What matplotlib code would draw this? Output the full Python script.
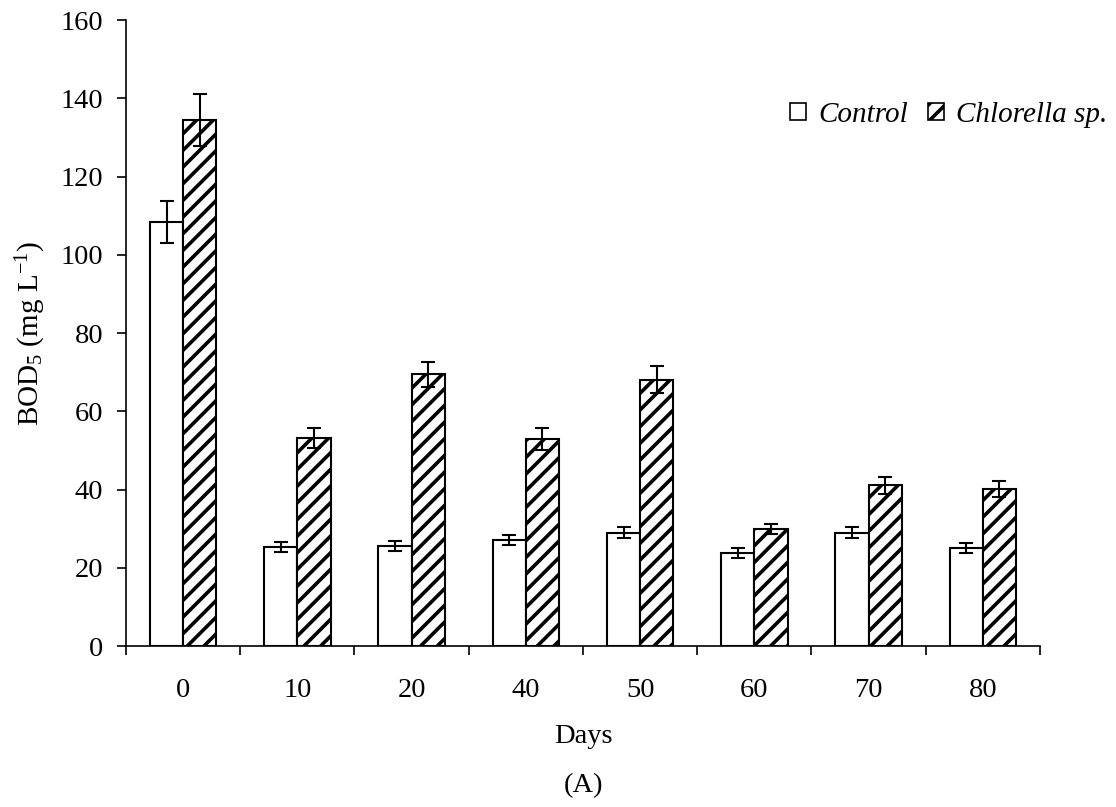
import numpy as np
import matplotlib.pyplot as plt
from matplotlib.patches import Patch

days = ['0', '10', '20', '40', '50', '60', '70', '80']
control = [108.4, 25.2, 25.5, 27.0, 29.0, 23.7, 29.0, 25.1]
control_err = [5.3, 1.3, 1.3, 1.3, 1.5, 1.3, 1.5, 1.3]
chlorella = [134.4, 53.2, 69.4, 53.0, 68.1, 29.9, 41.1, 40.1]
chlorella_err = [6.7, 2.6, 3.3, 2.8, 3.5, 1.4, 2.2, 2.1]

plt.rcParams['font.family'] = ['Liberation Serif', 'DejaVu Serif']
plt.rcParams['font.size'] = 20.5
plt.rcParams['mathtext.fontset'] = 'custom'
plt.rcParams['mathtext.rm'] = 'Liberation Serif'
plt.rcParams['mathtext.it'] = 'Liberation Serif:italic'
plt.rcParams['hatch.linewidth'] = 2.6

fig = plt.figure(figsize=(11.16, 8.07), dpi=100)
ax = fig.add_axes([0.1129, 0.1995, 0.819, 0.7757])

x = np.arange(len(days))
w = 0.29
err_kw = dict(ecolor='black', elinewidth=1.5, capsize=5, capthick=1.5)
ax.bar(x - w / 2, control, w, yerr=control_err, color='white',
       edgecolor='black', linewidth=1.5, error_kw=err_kw)
ax.bar(x + w / 2, chlorella, w, yerr=chlorella_err, color='white',
       edgecolor='black', linewidth=1.5, hatch='//', error_kw=err_kw)

ax.set_xlim(-0.5, len(days) - 0.5)
ax.set_ylim(0, 160)
ax.set_yticks(np.arange(0, 161, 20))
ax.set_xticks(x)
ax.set_xticklabels(days)
ax.tick_params(axis='x', length=0, pad=23)
# ticks between the day groups
ax.set_xticks(np.arange(-0.5, len(days)), minor=True)
ax.tick_params(axis='x', which='minor', length=6.5, width=1.2, direction='out')
ax.tick_params(axis='y', length=6.5, width=1.2, direction='out', pad=10)
for s in ['top', 'right']:
    ax.spines[s].set_visible(False)
for s in ['left', 'bottom']:
    ax.spines[s].set_linewidth(1.2)

ax.set_ylabel('BOD$_\\mathregular{5}$ (mg L$^\\mathregular{-1}$)', fontsize=21, labelpad=9)
ax.set_xlabel('Days', labelpad=15)
fig.text(0.5 * (0.1129 + 0.932), 1 - 786 / 807, '(A)', ha='center', va='center')

handles = [Patch(facecolor='white', edgecolor='black', linewidth=1.2),
           Patch(facecolor='white', edgecolor='black', linewidth=1.2, hatch='//')]
fig.legend(handles, ['Control', 'Chlorella sp.'], ncol=2, frameon=False,
           loc='center right', bbox_to_anchor=(1107 / 1116, 1 - 115 / 807),
           prop={'style': 'italic', 'size': 21}, handlelength=0.55,
           handleheight=0.55, handletextpad=0.4, columnspacing=0.7,
           borderpad=0, borderaxespad=0)

fig.savefig('out.png', dpi=100)
